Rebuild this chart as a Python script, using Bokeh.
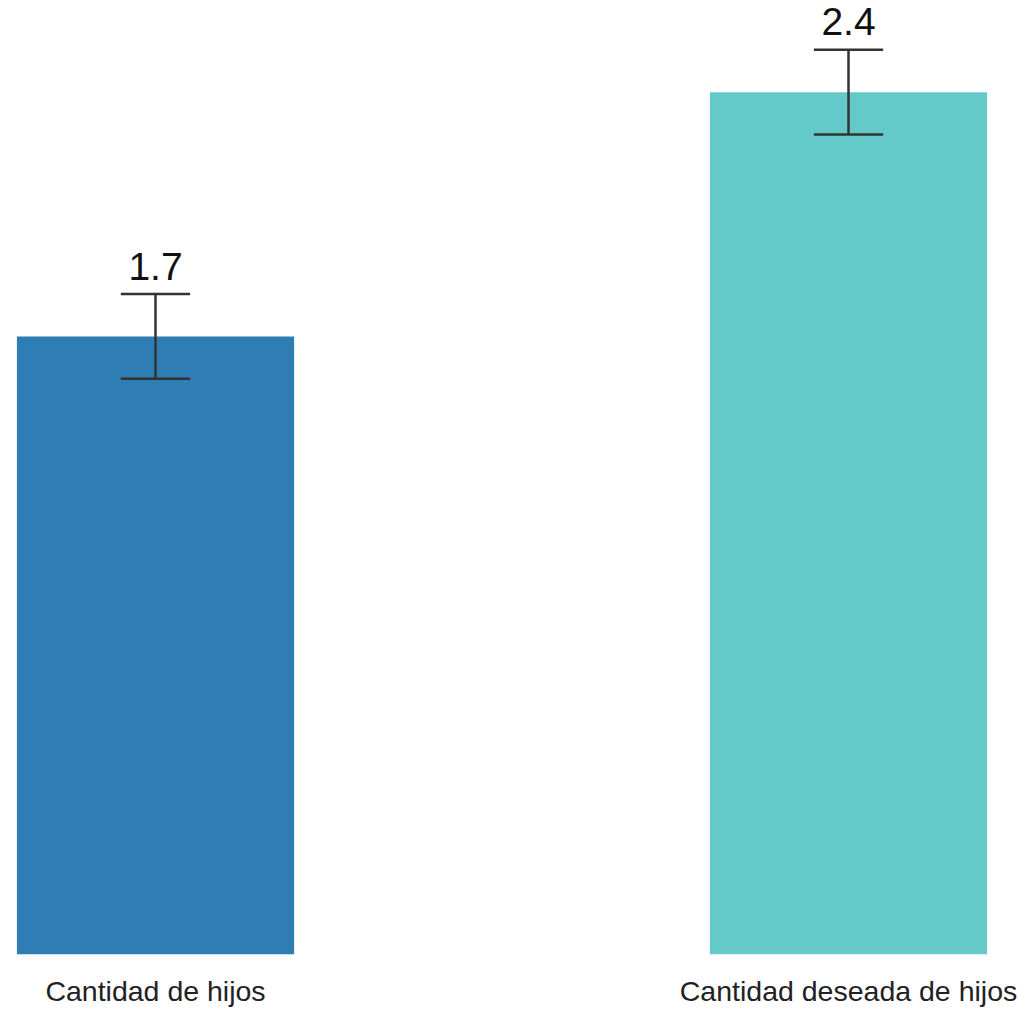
from bokeh.plotting import figure
from bokeh.models import ColumnDataSource, Range1d, FixedTicker
from bokeh.embed import file_html
from bokeh.resources import INLINE
from bokeh.core.properties import value

categories = ["Cantidad de hijos", "Cantidad deseada de hijos"]
means = [1.72, 2.40]
errors = [0.118, 0.118]
colors = ["#2E7EB5", "#64CAC9"]

label_gap = 0.078  # gap between error cap and value label, in data units

xs = list(range(len(categories)))
src = ColumnDataSource(dict(
    x=xs,
    top=means,
    color=colors,
    lo=[m - e for m, e in zip(means, errors)],
    hi=[m + e for m, e in zip(means, errors)],
    ly=[m + e + label_gap for m, e in zip(means, errors)],
    x0=[x - 0.05 for x in xs],
    x1=[x + 0.05 for x in xs],
    label=[f"{m:.1f}" for m in means],
))

p = figure(width=1026, height=1009, output_backend="svg", toolbar_location=None,
           x_range=Range1d(-0.22367, 1.25685), y_range=Range1d(0, 2.655),
           min_border_left=0, min_border_right=0, min_border_top=0, min_border_bottom=55)
p.outline_line_color = None
p.grid.visible = False
p.yaxis.visible = False
p.background_fill_color = "white"
p.border_fill_color = "white"

p.vbar(x="x", top="top", bottom=0, width=0.4, color="color", source=src, line_color=None)
p.segment(x0="x", y0="lo", x1="x", y1="hi", line_color="#333333", line_width=2.5, source=src)
p.segment(x0="x0", y0="lo", x1="x1", y1="lo", line_color="#333333", line_width=2.5, source=src)
p.segment(x0="x0", y0="hi", x1="x1", y1="hi", line_color="#333333", line_width=2.5, source=src)
p.text(x="x", y="ly", text="label", source=src, text_align="center", text_baseline="alphabetic",
       text_font=value("Liberation Sans"), text_font_size="39px", text_color="#111111")

ax = p.xaxis[0]
ax.ticker = FixedTicker(ticks=xs)
ax.major_label_overrides = {x: c for x, c in zip(xs, categories)}
ax.axis_line_color = None
ax.major_tick_line_color = None
ax.minor_tick_line_color = None
ax.major_tick_out = 0
ax.major_tick_in = 0
ax.major_label_standoff = 20
ax.major_label_text_font = "Liberation Sans"
ax.major_label_text_font_size = "28.5px"
ax.major_label_text_color = "#222222"

open("out.html", "w").write(file_html(p, INLINE))
